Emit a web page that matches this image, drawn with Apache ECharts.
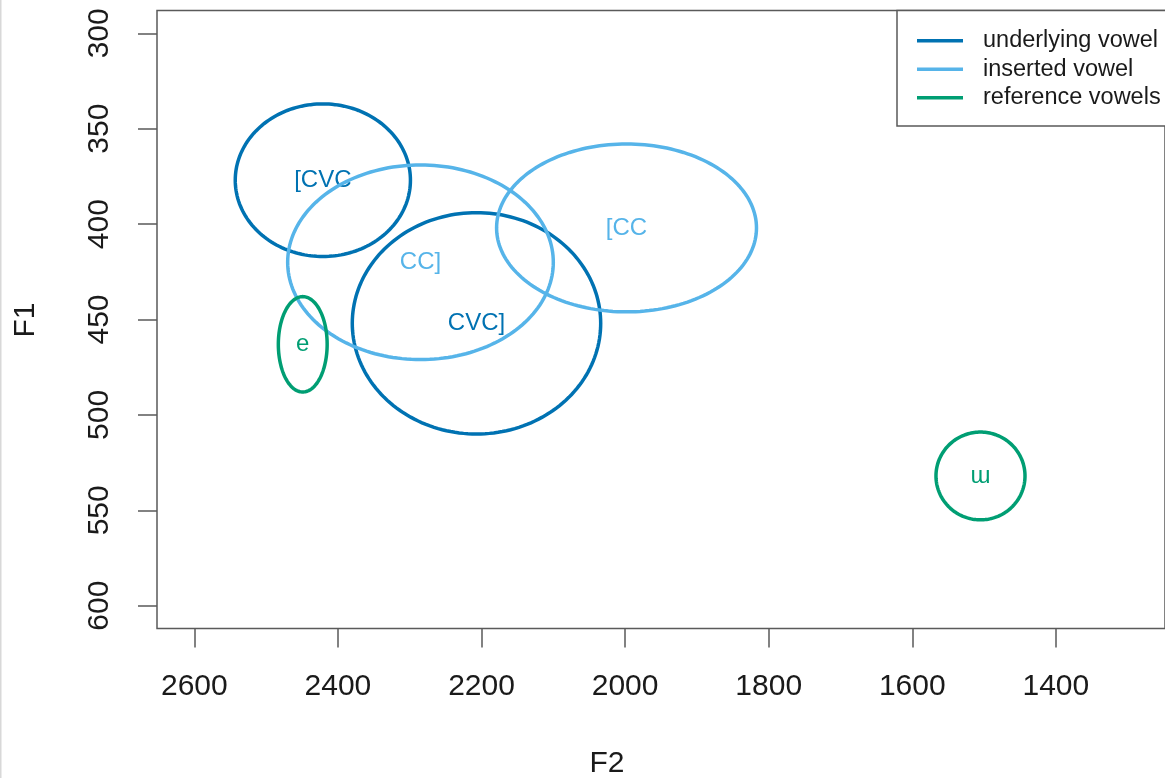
<!DOCTYPE html>
<html>
<head>
<meta charset="utf-8">
<title>F1 / F2 vowel ellipses</title>
<script src="https://cdn.jsdelivr.net/npm/echarts@6/dist/echarts.min.js"></script>
<style>
  html, body { margin: 0; padding: 0; background: #ffffff; }
  #chart { width: 1165px; height: 778px; }
</style>
</head>
<body>
<div id="chart"></div>
<script>
// Vowel categories, one ellipse each (mean formants and ellipse half-axes in Hz)
const vowelLabels = ['[CVC', 'CVC]', 'CC]', '[CC', 'e', 'ɯ'];
const vowelGroup  = ['underlying vowel', 'underlying vowel', 'inserted vowel', 'inserted vowel', 'reference vowels', 'reference vowels'];
const meanF2      = [2421, 2207, 2285, 1998, 2449, 1505];
const meanF1      = [377, 452, 420, 402, 463, 532];
const radiusF2    = [122, 173, 185, 181, 34, 62];
const radiusF1    = [40, 58, 51, 44, 25, 23];

// Legend groups and their colours
const groupNames  = ['underlying vowel', 'inserted vowel', 'reference vowels'];
const groupColors = ['#0072B2', '#56B4E9', '#009E73'];

// Axis ticks
const f2Ticks = [2600, 2400, 2200, 2000, 1800, 1600, 1400];
const f1Ticks = [300, 350, 400, 450, 500, 550, 600];
const f2Range = [1248, 2652];
const f1Range = [288, 612];

const FONT = '"Liberation Sans", Arial, Helvetica, "DejaVu Sans", sans-serif';
const AXIS_GREY = '#5a5a5a';
const TEXT = '#1a1a1a';

function ellipseItem(params, api) {
  const cx = api.value(0), cy = api.value(1);
  const rx = api.value(2), ry = api.value(3);
  const color = api.visual('color');
  const pts = [];
  const n = 180;
  for (let i = 0; i < n; i++) {
    const t = (i / n) * Math.PI * 2;
    pts.push(api.coord([cx + rx * Math.cos(t), cy + ry * Math.sin(t)]));
  }
  const c = api.coord([cx, cy]);
  return {
    type: 'group',
    children: [
      {
        type: 'polygon',
        shape: { points: pts },
        style: { fill: null, stroke: color, lineWidth: 3.5 }
      },
      {
        type: 'text',
        x: c[0], y: c[1],
        style: {
          text: api.value(4),
          fill: color,
          font: '24px ' + FONT,
          align: 'center',
          verticalAlign: 'middle'
        }
      }
    ]
  };
}

const series = groupNames.map(function (g, gi) {
  const data = [];
  for (let i = 0; i < vowelLabels.length; i++) {
    if (vowelGroup[i] === g) {
      data.push([meanF2[i], meanF1[i], radiusF2[i], radiusF1[i], vowelLabels[i]]);
    }
  }
  return {
    name: g,
    type: 'custom',
    coordinateSystem: 'cartesian2d',
    color: groupColors[gi],
    renderItem: ellipseItem,
    encode: { x: 0, y: 1 },
    clip: true,
    silent: true,
    data: data
  };
});

const plainNumber = function (v) { return String(v); };

const chart = echarts.init(document.getElementById('chart'), null, { renderer: 'canvas' });

chart.setOption({
  backgroundColor: '#ffffff',
  animation: false,
  grid: {
    show: true,
    left: 157,
    top: 10.4,
    right: -5.8,
    bottom: 149.4,
    borderColor: AXIS_GREY,
    borderWidth: 1.5,
    backgroundColor: 'transparent'
  },
  xAxis: {
    type: 'value',
    inverse: true,
    min: f2Range[0],
    max: f2Range[1],
    splitLine: { show: false },
    axisLine: { show: false },
    axisTick: { show: true, length: 19, lineStyle: { color: AXIS_GREY, width: 1.5 }, customValues: f2Ticks },
    axisLabel: {
      customValues: f2Ticks,
      formatter: plainNumber,
      margin: 43,
      fontSize: 30,
      color: TEXT,
      fontFamily: FONT
    }
  },
  yAxis: {
    type: 'value',
    inverse: true,
    min: f1Range[0],
    max: f1Range[1],
    splitLine: { show: false },
    axisLine: { show: false },
    axisTick: { show: true, length: 19, lineStyle: { color: AXIS_GREY, width: 1.5 }, customValues: f1Ticks },
    axisLabel: {
      customValues: f1Ticks,
      formatter: plainNumber,
      rotate: 90,
      margin: 42,
      fontSize: 30,
      color: TEXT,
      fontFamily: FONT
    }
  },
  legend: {
    orient: 'vertical',
    left: 897,
    top: 10.4,
    padding: [16, 20, 14, 20],
    backgroundColor: '#ffffff',
    borderColor: AXIS_GREY,
    borderWidth: 1.5,
    borderRadius: 0,
    itemWidth: 46,
    itemHeight: 3.5,
    itemGap: 0,
    icon: 'rect',
    selectedMode: false,
    textStyle: {
      fontSize: 23.5,
      lineHeight: 28.5,
      color: TEXT,
      fontFamily: FONT,
      padding: [0, 0, 0, 15]
    },
    data: groupNames
  },
  graphic: [
    {
      type: 'text',
      x: 607,
      y: 764,
      style: { text: 'F2', font: '30px ' + FONT, fill: TEXT, align: 'center', verticalAlign: 'middle' }
    },
    {
      type: 'text',
      x: 26,
      y: 320,
      rotation: Math.PI / 2,
      style: { text: 'F1', font: '30px ' + FONT, fill: TEXT, align: 'center', verticalAlign: 'middle' }
    },
    {
      type: 'rect',
      shape: { x: 0, y: 0, width: 1.5, height: 778 },
      style: { fill: '#d8d8d8' }
    }
  ],
  series: series
});
</script>
</body>
</html>
